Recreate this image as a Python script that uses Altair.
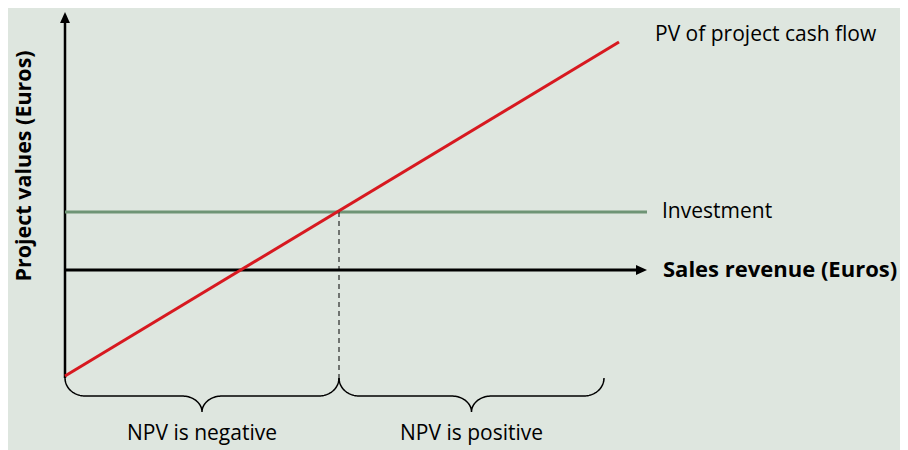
import math
import altair as alt
import pandas as pd

# ---- schematic values (abstract units; 0 = origin of the axes) ----
x_axis_end = 291        # end of the sales revenue axis (arrow tip)
y_axis_top = 129        # top of the project value axis (arrow tip)
y_axis_bottom = -54     # lower end of the value axis
investment = 29         # constant investment level
pv_x = [0, 277]         # sales revenue at start / end of PV line
pv_y = [-53, 114]       # PV of project cash flow at those revenues
break_even = 137        # revenue where PV = investment
brace_ranges = [[0, break_even], [break_even, 269.5]]
brace_labels = ["NPV is negative", "NPV is positive"]
line_labels = ["PV of project cash flow", "Investment"]
x_title = "Sales revenue (Euros)"
y_title = "Project values (Euros)"

FONT = "Open Sans"
BG = "#dee6df"
RED = "#d71920"
GREEN = "#6e9475"

W, H = 892, 442
xs = alt.Scale(domain=[-28.5, 417.5], range=[0, W], nice=False, zero=False)
ys = alt.Scale(domain=[-90, 131], range=[H, 0], nice=False, zero=False)
X = lambda f="x": alt.X(f"{f}:Q", scale=xs, axis=None)
Y = lambda f="y": alt.Y(f"{f}:Q", scale=ys, axis=None)

# axes
yaxis = alt.Chart(pd.DataFrame({"x": [0], "y": [y_axis_bottom], "y2": [y_axis_top - 5.5]})).mark_rule(
    color="black", strokeWidth=2.5).encode(x=X(), y=Y(), y2="y2:Q")
yhead = alt.Chart(pd.DataFrame({"x": [0], "y": [y_axis_top - 2.75]})).mark_point(
    shape="M0,-1L0.9,1L-0.9,1Z", size=121, filled=True, color="black", opacity=1).encode(x=X(), y=Y())
xaxis = alt.Chart(pd.DataFrame({"x": [0], "x2": [x_axis_end - 5.5], "y": [0]})).mark_rule(
    color="black", strokeWidth=3).encode(x=X(), x2="x2:Q", y=Y())
xhead = alt.Chart(pd.DataFrame({"x": [x_axis_end - 2.75], "y": [0]})).mark_point(
    shape="M1,0L-1,0.9L-1,-0.9Z", size=121, filled=True, color="black", opacity=1).encode(x=X(), y=Y())

inv = alt.Chart(pd.DataFrame({"x": [0], "x2": [x_axis_end], "y": [investment]})).mark_rule(
    color=GREEN, strokeWidth=3).encode(x=X(), x2="x2:Q", y=Y())

dashed = alt.Chart(pd.DataFrame({"x": [break_even], "y": [investment], "y2": [y_axis_bottom]})).mark_rule(
    color="black", strokeWidth=1, strokeDash=[5, 4]).encode(x=X(), y=Y(), y2="y2:Q")

pv = alt.Chart(pd.DataFrame({"x": pv_x, "y": pv_y})).mark_line(
    color=RED, strokeWidth=3).encode(x=X(), y=Y())

# braces (shape geometry built from each range's ends)
def brace(x0, x1, top=-54, mid=-63, cusp=-71, r=10, rc=10, n=24):
    xc = (x0 + x1) / 2
    pts = []
    for i in range(n + 1):
        t = i / n * math.pi / 2
        pts.append((x0 + r - r * math.cos(t), top - (top - mid) * math.sin(t)))
    for i in range(n + 1):
        t = i / n * math.pi / 2
        pts.append((xc - rc + rc * math.sin(t), cusp + (mid - cusp) * math.cos(t)))
    for i in range(n + 1):
        t = i / n * math.pi / 2
        pts.append((xc + rc - rc * math.cos(t), cusp + (mid - cusp) * math.sin(t)))
    for i in range(n + 1):
        t = i / n * math.pi / 2
        pts.append((x1 - r + r * math.sin(t), top - (top - mid) * math.cos(t)))
    return pts

rows = []
for b, (a, c) in enumerate(brace_ranges):
    for k, (px, py) in enumerate(brace(a, c)):
        rows.append({"b": b, "k": k, "x": px, "y": py})
braces = alt.Chart(pd.DataFrame(rows)).mark_line(color="black", strokeWidth=1.5).encode(
    x=X(), y=Y(), detail="b:N", order="k:Q")

# texts
brace_txt = alt.Chart(pd.DataFrame({
    "x": [(a + c) / 2 for a, c in brace_ranges], "y": [-82, -82], "t": brace_labels})).mark_text(
    font=FONT, fontSize=21, color="black", align="center", baseline="middle").encode(x=X(), y=Y(), text="t:N")
line_txt = alt.Chart(pd.DataFrame({"x": [295, 298.5], "y": [117.5, investment], "t": line_labels})).mark_text(
    font=FONT, fontSize=21, color="black", align="left", baseline="middle").encode(x=X(), y=Y(), text="t:N")
xt = alt.Chart(pd.DataFrame({"x": [299], "y": [0], "t": [x_title]})).mark_text(
    font=FONT, fontSize=22, fontWeight="bold", color="black", align="left", baseline="middle").encode(
    x=X(), y=Y(), text="t:N")
yt = alt.Chart(pd.DataFrame({"x": [-20], "y": [52], "t": [y_title]})).mark_text(
    font=FONT, fontSize=21.5, fontWeight="bold", color="black", align="center", baseline="middle", angle=270).encode(
    x=X(), y=Y(), text="t:N")

chart = alt.layer(yaxis, yhead, xaxis, xhead, inv, dashed, braces, pv, brace_txt, line_txt, xt, yt).properties(
    width=W, height=H, background=BG, padding=0, autosize=alt.AutoSizeParams(type="none")
).configure_view(stroke=None)

chart.save("out.html", embed_options={"renderer": "svg", "actions": False})
